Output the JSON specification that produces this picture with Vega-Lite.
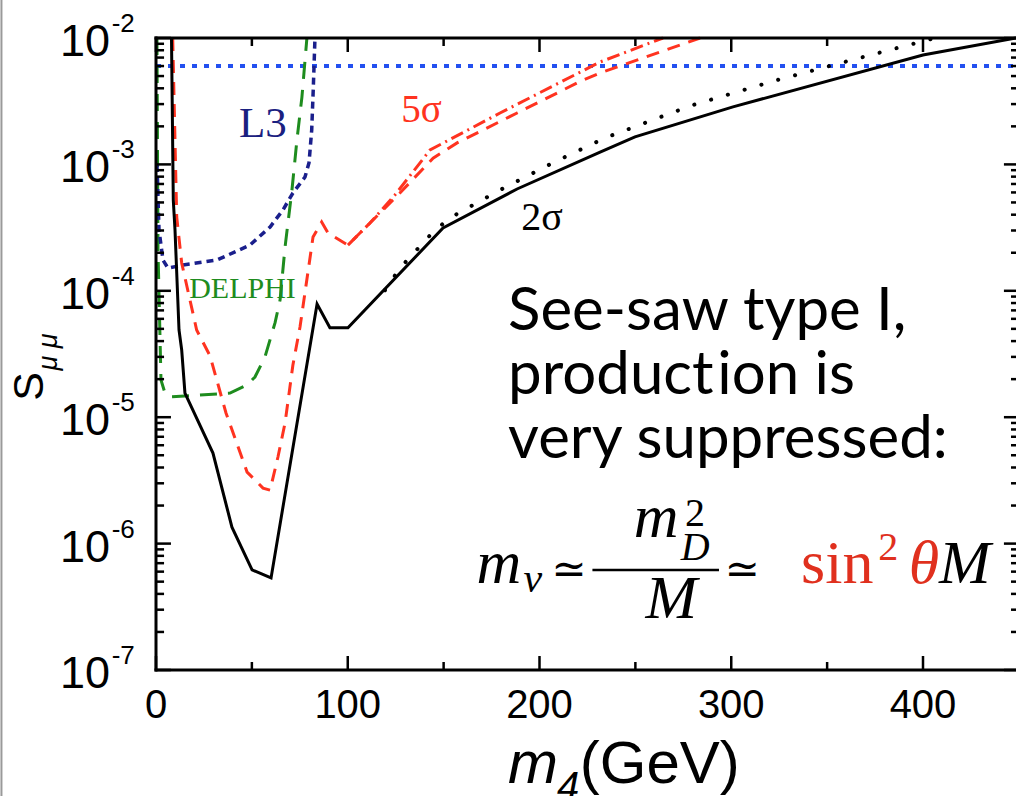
{
  "$schema": "https://vega.github.io/schema/vega-lite/v6.json",
  "width": 860,
  "height": 632,
  "autosize": {"type": "none"},
  "padding": {"left": 156, "top": 38, "right": 0, "bottom": 126},
  "background": "white",
  "config": {"view": {"stroke": null}},
  "data": {"values": [{}]},
  "datasets": {
    "ydec": [{"v": 1e-7, "e": "-7"}, {"v": 1e-6, "e": "-6"}, {"v": 1e-5, "e": "-5"}, {"v": 1e-4, "e": "-4"}, {"v": 1e-3, "e": "-3"}, {"v": 1e-2, "e": "-2"}],
    "yminor": [
      {"v": 2e-7}, {"v": 3e-7}, {"v": 4e-7}, {"v": 5e-7}, {"v": 6e-7}, {"v": 7e-7}, {"v": 8e-7}, {"v": 9e-7},
      {"v": 2e-6}, {"v": 3e-6}, {"v": 4e-6}, {"v": 5e-6}, {"v": 6e-6}, {"v": 7e-6}, {"v": 8e-6}, {"v": 9e-6},
      {"v": 2e-5}, {"v": 3e-5}, {"v": 4e-5}, {"v": 5e-5}, {"v": 6e-5}, {"v": 7e-5}, {"v": 8e-5}, {"v": 9e-5},
      {"v": 2e-4}, {"v": 3e-4}, {"v": 4e-4}, {"v": 5e-4}, {"v": 6e-4}, {"v": 7e-4}, {"v": 8e-4}, {"v": 9e-4},
      {"v": 2e-3}, {"v": 3e-3}, {"v": 4e-3}, {"v": 5e-3}, {"v": 6e-3}, {"v": 7e-3}, {"v": 8e-3}, {"v": 9e-3}
    ],
    "xmaj": [{"v": 0}, {"v": 100}, {"v": 200}, {"v": 300}, {"v": 400}],
    "xmin": [{"v": 50}, {"v": 150}, {"v": 250}, {"v": 350}],
    "black": [{"x": 8.08, "y": 0.01}, {"x": 9.02, "y": 5.2e-4}, {"x": 9.91, "y": 3.03e-4}, {"x": 12.0, "y": 4.9e-5}, {"x": 13.4, "y": 3.4e-5}, {"x": 15.1, "y": 1.55e-5}, {"x": 29.7, "y": 5.2e-6}, {"x": 39.6, "y": 1.35e-6}, {"x": 50.1, "y": 6.2e-7}, {"x": 60.0, "y": 5.35e-7}, {"x": 84.0, "y": 7.87e-5}, {"x": 90.7, "y": 5.1e-5}, {"x": 100.1, "y": 5.1e-5}, {"x": 149.7, "y": 3.14e-4}, {"x": 188.3, "y": 6.39e-4}, {"x": 231.6, "y": 1.25e-3}, {"x": 249.8, "y": 1.65e-3}, {"x": 300.9, "y": 2.85e-3}, {"x": 400.0, "y": 7.34e-3}, {"x": 448.5, "y": 0.01}],
    "red5": [{"x": 8.71, "y": 0.01}, {"x": 10.8, "y": 3.84e-4}, {"x": 13.4, "y": 1.66e-4}, {"x": 21.2, "y": 4.9e-5}, {"x": 28.2, "y": 3.05e-5}, {"x": 36.5, "y": 1.08e-5}, {"x": 47.5, "y": 3.68e-6}, {"x": 55.8, "y": 2.75e-6}, {"x": 59.5, "y": 2.65e-6}, {"x": 63.6, "y": 4.84e-6}, {"x": 67.3, "y": 9.0e-6}, {"x": 71.4, "y": 2.59e-5}, {"x": 75.1, "y": 5.17e-5}, {"x": 81.9, "y": 2.67e-4}, {"x": 86.4, "y": 3.5e-4}, {"x": 89.7, "y": 2.87e-4}, {"x": 100.1, "y": 2.3e-4}, {"x": 111.6, "y": 3.44e-4}, {"x": 127.2, "y": 5.94e-4}, {"x": 144.5, "y": 1.12e-3}, {"x": 157.0, "y": 1.48e-3}, {"x": 188.3, "y": 2.55e-3}, {"x": 222.7, "y": 4.65e-3}, {"x": 231.6, "y": 5.29e-3}, {"x": 283.7, "y": 0.01}],
    "red5dd": [{"x": 100.1, "y": 2.3e-4}, {"x": 111.6, "y": 3.44e-4}, {"x": 124.6, "y": 5.73e-4}, {"x": 142.9, "y": 1.3e-3}, {"x": 179.4, "y": 2.55e-3}, {"x": 231.6, "y": 6.46e-3}, {"x": 264.4, "y": 0.01}],
    "dotted": [{"x": 119.4, "y": 1.01e-4}, {"x": 127.2, "y": 1.51e-4}, {"x": 144.5, "y": 2.92e-4}, {"x": 153.3, "y": 3.77e-4}, {"x": 179.4, "y": 6.27e-4}, {"x": 207.0, "y": 1.03e-3}, {"x": 234.2, "y": 1.62e-3}, {"x": 278.5, "y": 2.9e-3}, {"x": 323.9, "y": 4.65e-3}, {"x": 368.7, "y": 7.07e-3}, {"x": 406.3, "y": 0.01}],
    "delphi": [{"x": 0.5, "y": 0.01}, {"x": 1.04, "y": 2.1e-4}, {"x": 2.6, "y": 1.97e-5}, {"x": 4.7, "y": 1.55e-5}, {"x": 7.3, "y": 1.45e-5}, {"x": 38.6, "y": 1.55e-5}, {"x": 47.5, "y": 1.8e-5}, {"x": 51.6, "y": 2.08e-5}, {"x": 56.8, "y": 2.99e-5}, {"x": 62.1, "y": 5.6e-5}, {"x": 64.7, "y": 8.45e-5}, {"x": 67.3, "y": 2.22e-4}, {"x": 70.9, "y": 6.27e-4}, {"x": 73.5, "y": 1.56e-3}, {"x": 76.1, "y": 3.41e-3}, {"x": 78.7, "y": 0.01}],
    "l3": [{"x": 0.5, "y": 9.9e-4}, {"x": 1.56, "y": 3.03e-4}, {"x": 3.65, "y": 1.75e-4}, {"x": 6.26, "y": 1.51e-4}, {"x": 14.1, "y": 1.6e-4}, {"x": 31.7, "y": 1.75e-4}, {"x": 49.0, "y": 2.3e-4}, {"x": 59.5, "y": 3.2e-4}, {"x": 66.2, "y": 4.36e-4}, {"x": 71.4, "y": 5.94e-4}, {"x": 77.7, "y": 7.94e-4}, {"x": 79.8, "y": 1.03e-3}, {"x": 81.2, "y": 1.87e-3}, {"x": 82.0, "y": 3.88e-3}, {"x": 82.9, "y": 0.01}],
    "lep": [{"x": 0, "y": 0.006}, {"x": 448.5, "y": 0.006}]
  },
  "layer": [
    {
      "mark": {"type": "rule", "color": "#9a9a9a", "strokeWidth": 2},
      "encoding": {
        "x": {"datum": -80.6, "type": "quantitative", "scale": {"type": "linear", "domain": [0, 448.5], "nice": false, "zero": false}, "axis": null},
        "y": {"datum": 0.02, "type": "quantitative", "scale": {"type": "log", "domain": [1e-7, 0.01], "nice": false}, "axis": null},
        "y2": {"datum": 1e-8}
      }
    },
    {
      "data": {"name": "lep"},
      "mark": {"type": "line", "color": "#2350f0", "strokeWidth": 4, "strokeDash": [5, 7]},
      "encoding": {
        "x": {"field": "x", "type": "quantitative", "scale": {"type": "linear", "domain": [0, 448.5], "nice": false, "zero": false}, "axis": null},
        "y": {"field": "y", "type": "quantitative", "scale": {"type": "log", "domain": [1e-7, 0.01], "nice": false}, "axis": null}
      }
    },
    {
      "data": {"name": "delphi"},
      "mark": {"type": "line", "color": "#1e8c1e", "strokeWidth": 3, "strokeDash": [17, 11]},
      "encoding": {
        "x": {"field": "x", "type": "quantitative", "scale": {"type": "linear", "domain": [0, 448.5], "nice": false, "zero": false}, "axis": null},
        "y": {"field": "y", "type": "quantitative", "scale": {"type": "log", "domain": [1e-7, 0.01], "nice": false}, "axis": null}
      }
    },
    {
      "data": {"name": "l3"},
      "mark": {"type": "line", "color": "#1a1f8c", "strokeWidth": 3.5, "strokeDash": [7, 5]},
      "encoding": {
        "x": {"field": "x", "type": "quantitative", "scale": {"type": "linear", "domain": [0, 448.5], "nice": false, "zero": false}, "axis": null},
        "y": {"field": "y", "type": "quantitative", "scale": {"type": "log", "domain": [1e-7, 0.01], "nice": false}, "axis": null}
      }
    },
    {
      "data": {"name": "red5dd"},
      "mark": {"type": "line", "color": "#ff3320", "strokeWidth": 3, "strokeDash": [13, 5, 2, 5]},
      "encoding": {
        "x": {"field": "x", "type": "quantitative", "scale": {"type": "linear", "domain": [0, 448.5], "nice": false, "zero": false}, "axis": null},
        "y": {"field": "y", "type": "quantitative", "scale": {"type": "log", "domain": [1e-7, 0.01], "nice": false}, "axis": null}
      }
    },
    {
      "data": {"name": "red5"},
      "mark": {"type": "line", "color": "#ff3320", "strokeWidth": 3, "strokeDash": [13, 9]},
      "encoding": {
        "x": {"field": "x", "type": "quantitative", "scale": {"type": "linear", "domain": [0, 448.5], "nice": false, "zero": false}, "axis": null},
        "y": {"field": "y", "type": "quantitative", "scale": {"type": "log", "domain": [1e-7, 0.01], "nice": false}, "axis": null}
      }
    },
    {
      "data": {"name": "dotted"},
      "mark": {"type": "line", "color": "black", "strokeWidth": 4, "strokeDash": [0.1, 17.4], "strokeCap": "round"},
      "encoding": {
        "x": {"field": "x", "type": "quantitative", "scale": {"type": "linear", "domain": [0, 448.5], "nice": false, "zero": false}, "axis": null},
        "y": {"field": "y", "type": "quantitative", "scale": {"type": "log", "domain": [1e-7, 0.01], "nice": false}, "axis": null}
      }
    },
    {
      "data": {"name": "black"},
      "mark": {"type": "line", "color": "black", "strokeWidth": 3},
      "encoding": {
        "x": {"field": "x", "type": "quantitative", "scale": {"type": "linear", "domain": [0, 448.5], "nice": false, "zero": false}, "axis": null},
        "y": {"field": "y", "type": "quantitative", "scale": {"type": "log", "domain": [1e-7, 0.01], "nice": false}, "axis": null}
      }
    },
    {
      "mark": {"type": "rule", "color": "black", "strokeWidth": 3, "strokeCap": "square"},
      "encoding": {
        "x": {"datum": 0, "type": "quantitative", "scale": {"type": "linear", "domain": [0, 448.5], "nice": false, "zero": false}, "axis": null},
        "x2": {"datum": 448.5},
        "y": {"datum": 0.01, "type": "quantitative", "scale": {"type": "log", "domain": [1e-7, 0.01], "nice": false}, "axis": null}
      }
    },
    {
      "mark": {"type": "rule", "color": "black", "strokeWidth": 3, "strokeCap": "square"},
      "encoding": {
        "x": {"datum": 0, "type": "quantitative", "scale": {"type": "linear", "domain": [0, 448.5], "nice": false, "zero": false}, "axis": null},
        "x2": {"datum": 448.5},
        "y": {"datum": 1e-7, "type": "quantitative", "scale": {"type": "log", "domain": [1e-7, 0.01], "nice": false}, "axis": null}
      }
    },
    {
      "mark": {"type": "rule", "color": "black", "strokeWidth": 3, "strokeCap": "square"},
      "encoding": {
        "x": {"datum": 0, "type": "quantitative", "scale": {"type": "linear", "domain": [0, 448.5], "nice": false, "zero": false}, "axis": null},
        "y": {"datum": 1e-7, "type": "quantitative", "scale": {"type": "log", "domain": [1e-7, 0.01], "nice": false}, "axis": null},
        "y2": {"datum": 0.01}
      }
    },
    {
      "data": {"name": "ydec"},
      "mark": {"type": "rule", "color": "black", "strokeWidth": 2.5},
      "encoding": {
        "x": {"datum": 0, "type": "quantitative", "scale": {"type": "linear", "domain": [0, 448.5], "nice": false, "zero": false}, "axis": null},
        "x2": {"datum": 7.8},
        "y": {"field": "v", "type": "quantitative", "scale": {"type": "log", "domain": [1e-7, 0.01], "nice": false}, "axis": null}
      }
    },
    {
      "data": {"name": "yminor"},
      "mark": {"type": "rule", "color": "black", "strokeWidth": 2.5},
      "encoding": {
        "x": {"datum": 0, "type": "quantitative", "scale": {"type": "linear", "domain": [0, 448.5], "nice": false, "zero": false}, "axis": null},
        "x2": {"datum": 4.2},
        "y": {"field": "v", "type": "quantitative", "scale": {"type": "log", "domain": [1e-7, 0.01], "nice": false}, "axis": null}
      }
    },
    {
      "data": {"name": "ydec"},
      "mark": {"type": "rule", "color": "black", "strokeWidth": 2.5},
      "encoding": {
        "x": {"datum": 442.2, "type": "quantitative", "scale": {"type": "linear", "domain": [0, 448.5], "nice": false, "zero": false}, "axis": null},
        "x2": {"datum": 448.5},
        "y": {"field": "v", "type": "quantitative", "scale": {"type": "log", "domain": [1e-7, 0.01], "nice": false}, "axis": null}
      }
    },
    {
      "data": {"name": "yminor"},
      "mark": {"type": "rule", "color": "black", "strokeWidth": 2.5},
      "encoding": {
        "x": {"datum": 445.9, "type": "quantitative", "scale": {"type": "linear", "domain": [0, 448.5], "nice": false, "zero": false}, "axis": null},
        "x2": {"datum": 448.5},
        "y": {"field": "v", "type": "quantitative", "scale": {"type": "log", "domain": [1e-7, 0.01], "nice": false}, "axis": null}
      }
    },
    {
      "data": {"name": "xmaj"},
      "mark": {"type": "rule", "color": "black", "strokeWidth": 2.5},
      "encoding": {
        "x": {"field": "v", "type": "quantitative", "scale": {"type": "linear", "domain": [0, 448.5], "nice": false, "zero": false}, "axis": null},
        "y": {"datum": 1e-7, "type": "quantitative", "scale": {"type": "log", "domain": [1e-7, 0.01], "nice": false}, "axis": null},
        "y2": {"datum": 1.29e-7}
      }
    },
    {
      "data": {"name": "xmin"},
      "mark": {"type": "rule", "color": "black", "strokeWidth": 2.5},
      "encoding": {
        "x": {"field": "v", "type": "quantitative", "scale": {"type": "linear", "domain": [0, 448.5], "nice": false, "zero": false}, "axis": null},
        "y": {"datum": 1e-7, "type": "quantitative", "scale": {"type": "log", "domain": [1e-7, 0.01], "nice": false}, "axis": null},
        "y2": {"datum": 1.157e-7}
      }
    },
    {
      "data": {"name": "xmaj"},
      "mark": {"type": "rule", "color": "black", "strokeWidth": 2.5},
      "encoding": {
        "x": {"field": "v", "type": "quantitative", "scale": {"type": "linear", "domain": [0, 448.5], "nice": false, "zero": false}, "axis": null},
        "y": {"datum": 0.01, "type": "quantitative", "scale": {"type": "log", "domain": [1e-7, 0.01], "nice": false}, "axis": null},
        "y2": {"datum": 7.75e-3}
      }
    },
    {
      "data": {"name": "xmin"},
      "mark": {"type": "rule", "color": "black", "strokeWidth": 2.5},
      "encoding": {
        "x": {"field": "v", "type": "quantitative", "scale": {"type": "linear", "domain": [0, 448.5], "nice": false, "zero": false}, "axis": null},
        "y": {"datum": 0.01, "type": "quantitative", "scale": {"type": "log", "domain": [1e-7, 0.01], "nice": false}, "axis": null},
        "y2": {"datum": 8.64e-3}
      }
    },
    {
      "data": {"name": "xmaj"},
      "mark": {"type": "text", "font": "Liberation Sans", "fontSize": 40, "color": "black", "align": "center", "baseline": "alphabetic", "dy": 48},
      "encoding": {
        "x": {"field": "v", "type": "quantitative", "scale": {"type": "linear", "domain": [0, 448.5], "nice": false, "zero": false}, "axis": null},
        "y": {"datum": 1e-7, "type": "quantitative", "scale": {"type": "log", "domain": [1e-7, 0.01], "nice": false}, "axis": null},
        "text": {"field": "v", "type": "quantitative", "format": "d"}
      }
    },
    {
      "data": {"name": "ydec"},
      "mark": {"type": "text", "text": "10", "font": "Liberation Sans", "fontSize": 45, "color": "black", "align": "right", "baseline": "middle", "dy": 4},
      "encoding": {
        "x": {"datum": -24.0, "type": "quantitative", "scale": {"type": "linear", "domain": [0, 448.5], "nice": false, "zero": false}, "axis": null},
        "y": {"field": "v", "type": "quantitative", "scale": {"type": "log", "domain": [1e-7, 0.01], "nice": false}, "axis": null}
      }
    },
    {
      "data": {"name": "ydec"},
      "mark": {"type": "text", "font": "Liberation Sans", "fontSize": 26, "color": "black", "align": "left", "baseline": "middle", "dy": -14},
      "encoding": {
        "x": {"datum": -23.1, "type": "quantitative", "scale": {"type": "linear", "domain": [0, 448.5], "nice": false, "zero": false}, "axis": null},
        "y": {"field": "v", "type": "quantitative", "scale": {"type": "log", "domain": [1e-7, 0.01], "nice": false}, "axis": null},
        "text": {"field": "e"}
      }
    },
    {
      "mark": {"type": "text", "text": "S", "font": "Liberation Sans", "fontSize": 43, "color": "black", "angle": 270, "align": "center", "baseline": "alphabetic"},
      "encoding": {
        "x": {"datum": -58.9, "type": "quantitative", "scale": {"type": "linear", "domain": [0, 448.5], "nice": false, "zero": false}, "axis": null},
        "y": {"datum": 1.75e-5, "type": "quantitative", "scale": {"type": "log", "domain": [1e-7, 0.01], "nice": false}, "axis": null}
      }
    },
    {
      "mark": {"type": "text", "text": "μ μ", "font": "Liberation Sans", "fontSize": 27, "fontStyle": "italic", "color": "black", "angle": 270, "align": "center", "baseline": "alphabetic"},
      "encoding": {
        "x": {"datum": -51.6, "type": "quantitative", "scale": {"type": "linear", "domain": [0, 448.5], "nice": false, "zero": false}, "axis": null},
        "y": {"datum": 3.28e-5, "type": "quantitative", "scale": {"type": "log", "domain": [1e-7, 0.01], "nice": false}, "axis": null}
      }
    },
    {
      "mark": {"type": "text", "text": "m", "font": "Liberation Sans", "fontSize": 60, "fontStyle": "italic", "color": "black", "align": "left", "baseline": "alphabetic"},
      "encoding": {
        "x": {"datum": 183.6, "type": "quantitative", "scale": {"type": "linear", "domain": [0, 448.5], "nice": false, "zero": false}, "axis": null},
        "y": {"datum": 1.28e-8, "type": "quantitative", "scale": {"type": "log", "domain": [1e-7, 0.01], "nice": false}, "axis": null}
      }
    },
    {
      "mark": {"type": "text", "text": "4", "font": "Liberation Sans", "fontSize": 40, "fontStyle": "italic", "color": "black", "align": "left", "baseline": "alphabetic"},
      "encoding": {
        "x": {"datum": 209.1, "type": "quantitative", "scale": {"type": "linear", "domain": [0, 448.5], "nice": false, "zero": false}, "axis": null},
        "y": {"datum": 9.4e-9, "type": "quantitative", "scale": {"type": "log", "domain": [1e-7, 0.01], "nice": false}, "axis": null}
      }
    },
    {
      "mark": {"type": "text", "text": "(GeV)", "font": "Liberation Sans", "fontSize": 60, "color": "black", "align": "left", "baseline": "alphabetic"},
      "encoding": {
        "x": {"datum": 221.0, "type": "quantitative", "scale": {"type": "linear", "domain": [0, 448.5], "nice": false, "zero": false}, "axis": null},
        "y": {"datum": 1.28e-8, "type": "quantitative", "scale": {"type": "log", "domain": [1e-7, 0.01], "nice": false}, "axis": null}
      }
    },
    {
      "mark": {"type": "text", "text": "L3", "font": "Liberation Serif", "fontSize": 43, "color": "#1a2080", "align": "center", "baseline": "alphabetic"},
      "encoding": {
        "x": {"datum": 55.8, "type": "quantitative", "scale": {"type": "linear", "domain": [0, 448.5], "nice": false, "zero": false}, "axis": null},
        "y": {"datum": 1.65e-3, "type": "quantitative", "scale": {"type": "log", "domain": [1e-7, 0.01], "nice": false}, "axis": null}
      }
    },
    {
      "mark": {"type": "text", "text": "DELPHI", "font": "Liberation Serif", "fontSize": 30, "color": "#1e8c1e", "align": "center", "baseline": "alphabetic"},
      "encoding": {
        "x": {"datum": 45.1, "type": "quantitative", "scale": {"type": "linear", "domain": [0, 448.5], "nice": false, "zero": false}, "axis": null},
        "y": {"datum": 8.77e-5, "type": "quantitative", "scale": {"type": "log", "domain": [1e-7, 0.01], "nice": false}, "axis": null}
      }
    },
    {
      "mark": {"type": "text", "text": "5σ", "font": "Liberation Serif", "fontSize": 39, "color": "#ff3320", "align": "center", "baseline": "alphabetic"},
      "encoding": {
        "x": {"datum": 138.5, "type": "quantitative", "scale": {"type": "linear", "domain": [0, 448.5], "nice": false, "zero": false}, "axis": null},
        "y": {"datum": 2.16e-3, "type": "quantitative", "scale": {"type": "log", "domain": [1e-7, 0.01], "nice": false}, "axis": null}
      }
    },
    {
      "mark": {"type": "text", "text": "2σ", "font": "Liberation Serif", "fontSize": 40, "color": "black", "align": "center", "baseline": "alphabetic"},
      "encoding": {
        "x": {"datum": 201.3, "type": "quantitative", "scale": {"type": "linear", "domain": [0, 448.5], "nice": false, "zero": false}, "axis": null},
        "y": {"datum": 3.03e-4, "type": "quantitative", "scale": {"type": "log", "domain": [1e-7, 0.01], "nice": false}, "axis": null}
      }
    },
    {
      "mark": {"type": "text", "text": ["See-saw type I,", "product\u200aion is", "very suppressed:"], "lineHeight": 64, "font": "Lato", "fontSize": 60, "color": "black", "align": "left", "baseline": "alphabetic"},
      "encoding": {
        "x": {"datum": 183.6, "type": "quantitative", "scale": {"type": "linear", "domain": [0, 448.5], "nice": false, "zero": false}, "axis": null},
        "y": {"datum": 4.9e-5, "type": "quantitative", "scale": {"type": "log", "domain": [1e-7, 0.01], "nice": false}, "axis": null}
      }
    },
    {
      "mark": {"type": "text", "text": "m", "font": "Liberation Serif", "fontSize": 62, "fontStyle": "italic", "color": "black", "align": "left", "baseline": "alphabetic"},
      "encoding": {
        "x": {"datum": 167.2, "type": "quantitative", "scale": {"type": "linear", "domain": [0, 448.5], "nice": false, "zero": false}, "axis": null},
        "y": {"datum": 4.88e-7, "type": "quantitative", "scale": {"type": "log", "domain": [1e-7, 0.01], "nice": false}, "axis": null}
      }
    },
    {
      "mark": {"type": "text", "text": "ν", "font": "Liberation Serif", "fontSize": 42, "fontStyle": "italic", "color": "black", "align": "left", "baseline": "alphabetic"},
      "encoding": {
        "x": {"datum": 191.7, "type": "quantitative", "scale": {"type": "linear", "domain": [0, 448.5], "nice": false, "zero": false}, "axis": null},
        "y": {"datum": 4.14e-7, "type": "quantitative", "scale": {"type": "log", "domain": [1e-7, 0.01], "nice": false}, "axis": null}
      }
    },
    {
      "mark": {"type": "text", "text": "≃", "font": "DejaVu Serif", "fontSize": 42, "color": "black", "align": "center", "baseline": "alphabetic"},
      "encoding": {
        "x": {"datum": 215.3, "type": "quantitative", "scale": {"type": "linear", "domain": [0, 448.5], "nice": false, "zero": false}, "axis": null},
        "y": {"datum": 4.88e-7, "type": "quantitative", "scale": {"type": "log", "domain": [1e-7, 0.01], "nice": false}, "axis": null}
      }
    },
    {
      "mark": {"type": "text", "text": "m", "font": "Liberation Serif", "fontSize": 62, "fontStyle": "italic", "color": "black", "align": "left", "baseline": "alphabetic"},
      "encoding": {
        "x": {"datum": 249.1, "type": "quantitative", "scale": {"type": "linear", "domain": [0, 448.5], "nice": false, "zero": false}, "axis": null},
        "y": {"datum": 1.13e-6, "type": "quantitative", "scale": {"type": "log", "domain": [1e-7, 0.01], "nice": false}, "axis": null}
      }
    },
    {
      "mark": {"type": "text", "text": "2", "font": "Liberation Serif", "fontSize": 40, "color": "black", "align": "left", "baseline": "alphabetic"},
      "encoding": {
        "x": {"datum": 275.9, "type": "quantitative", "scale": {"type": "linear", "domain": [0, 448.5], "nice": false, "zero": false}, "axis": null},
        "y": {"datum": 1.38e-6, "type": "quantitative", "scale": {"type": "log", "domain": [1e-7, 0.01], "nice": false}, "axis": null}
      }
    },
    {
      "mark": {"type": "text", "text": "D", "font": "Liberation Serif", "fontSize": 40, "fontStyle": "italic", "color": "black", "align": "left", "baseline": "alphabetic"},
      "encoding": {
        "x": {"datum": 273.6, "type": "quantitative", "scale": {"type": "linear", "domain": [0, 448.5], "nice": false, "zero": false}, "axis": null},
        "y": {"datum": 7.41e-7, "type": "quantitative", "scale": {"type": "log", "domain": [1e-7, 0.01], "nice": false}, "axis": null}
      }
    },
    {
      "mark": {"type": "rule", "color": "black", "strokeWidth": 2.5},
      "encoding": {
        "x": {"datum": 227.6, "type": "quantitative", "scale": {"type": "linear", "domain": [0, 448.5], "nice": false, "zero": false}, "axis": null},
        "x2": {"datum": 293.6},
        "y": {"datum": 6.18e-7, "type": "quantitative", "scale": {"type": "log", "domain": [1e-7, 0.01], "nice": false}, "axis": null}
      }
    },
    {
      "mark": {"type": "text", "text": "M", "font": "Liberation Serif", "fontSize": 62, "fontStyle": "italic", "color": "black", "align": "center", "baseline": "alphabetic"},
      "encoding": {
        "x": {"datum": 268.8, "type": "quantitative", "scale": {"type": "linear", "domain": [0, 448.5], "nice": false, "zero": false}, "axis": null},
        "y": {"datum": 2.58e-7, "type": "quantitative", "scale": {"type": "log", "domain": [1e-7, 0.01], "nice": false}, "axis": null}
      }
    },
    {
      "mark": {"type": "text", "text": "≃", "font": "DejaVu Serif", "fontSize": 42, "color": "black", "align": "center", "baseline": "alphabetic"},
      "encoding": {
        "x": {"datum": 305.6, "type": "quantitative", "scale": {"type": "linear", "domain": [0, 448.5], "nice": false, "zero": false}, "axis": null},
        "y": {"datum": 4.88e-7, "type": "quantitative", "scale": {"type": "log", "domain": [1e-7, 0.01], "nice": false}, "axis": null}
      }
    },
    {
      "mark": {"type": "text", "text": "sin", "font": "Liberation Serif", "fontSize": 62, "color": "#e0301e", "align": "left", "baseline": "alphabetic"},
      "encoding": {
        "x": {"datum": 336.4, "type": "quantitative", "scale": {"type": "linear", "domain": [0, 448.5], "nice": false, "zero": false}, "axis": null},
        "y": {"datum": 4.88e-7, "type": "quantitative", "scale": {"type": "log", "domain": [1e-7, 0.01], "nice": false}, "axis": null}
      }
    },
    {
      "mark": {"type": "text", "text": "2", "font": "Liberation Serif", "fontSize": 40, "color": "#e0301e", "align": "left", "baseline": "alphabetic"},
      "encoding": {
        "x": {"datum": 376.6, "type": "quantitative", "scale": {"type": "linear", "domain": [0, 448.5], "nice": false, "zero": false}, "axis": null},
        "y": {"datum": 7.41e-7, "type": "quantitative", "scale": {"type": "log", "domain": [1e-7, 0.01], "nice": false}, "axis": null}
      }
    },
    {
      "mark": {"type": "text", "text": "θ", "font": "Liberation Serif", "fontSize": 62, "fontStyle": "italic", "color": "#e0301e", "align": "left", "baseline": "alphabetic"},
      "encoding": {
        "x": {"datum": 392.6, "type": "quantitative", "scale": {"type": "linear", "domain": [0, 448.5], "nice": false, "zero": false}, "axis": null},
        "y": {"datum": 4.88e-7, "type": "quantitative", "scale": {"type": "log", "domain": [1e-7, 0.01], "nice": false}, "axis": null}
      }
    },
    {
      "mark": {"type": "text", "text": "M", "font": "Liberation Serif", "fontSize": 62, "fontStyle": "italic", "color": "black", "align": "left", "baseline": "alphabetic"},
      "encoding": {
        "x": {"datum": 408.3, "type": "quantitative", "scale": {"type": "linear", "domain": [0, 448.5], "nice": false, "zero": false}, "axis": null},
        "y": {"datum": 4.88e-7, "type": "quantitative", "scale": {"type": "log", "domain": [1e-7, 0.01], "nice": false}, "axis": null}
      }
    }
  ]
}
